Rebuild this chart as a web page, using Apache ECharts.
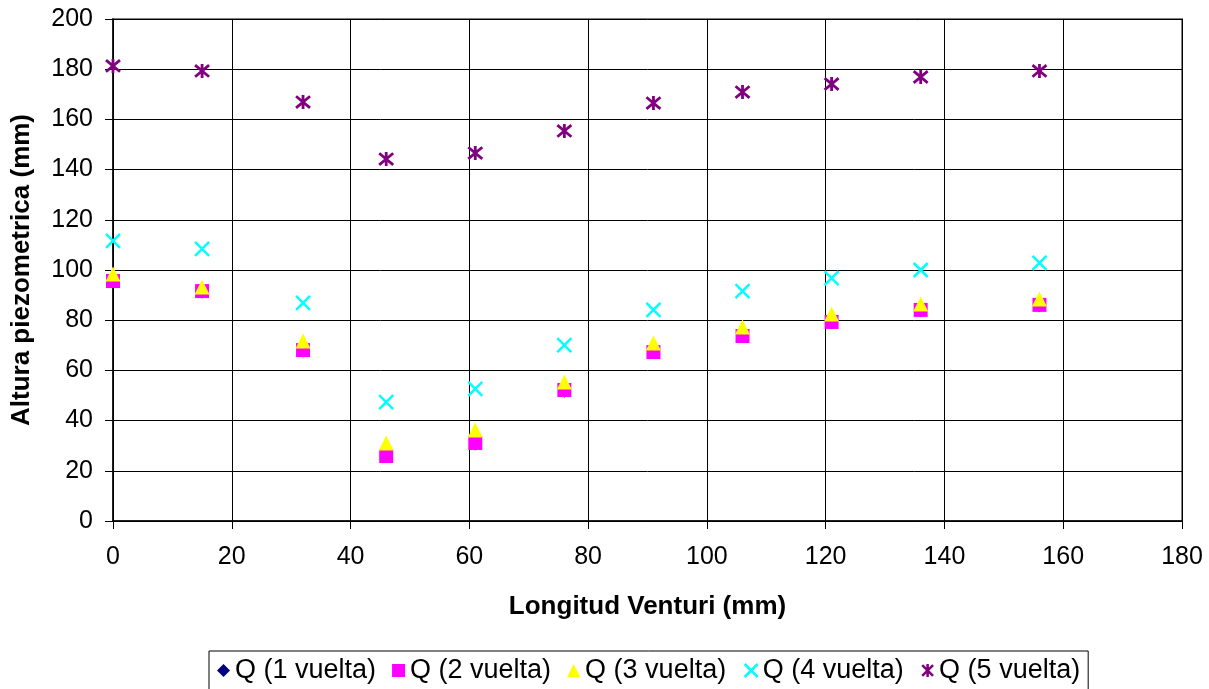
<!DOCTYPE html>
<html>
<head>
<meta charset="utf-8">
<script src="https://cdn.jsdelivr.net/npm/echarts@6/dist/echarts.min.js"></script>
<style>
html,body{margin:0;padding:0;background:#fff;}
#c{width:1209px;height:689px;}
</style>
</head>
<body>
<div id="c"></div>
<script>
var xPositions = [0, 15, 32, 46, 61, 76, 91, 106, 121, 136, 156];
var q1 = [95, 91, 67.5, 25.5, 30.5, 51.5, 66.8, 73.3, 78.8, 83.6, 85.6];
var q2 = [95.6, 91.6, 68.1, 25.9, 31.1, 52.2, 67.3, 73.7, 79.3, 84.1, 86.1];
var q3 = [98.4, 93.2, 71.7, 31.1, 36.3, 55.4, 70.9, 77.3, 82.5, 86.5, 88.4];
var q4 = [111.6, 108.4, 86.9, 47.4, 52.6, 70.1, 84.1, 91.6, 96.8, 100, 102.8];
var q5 = [181.3, 179.3, 166.9, 144.2, 146.6, 155.4, 166.5, 170.9, 174.1, 176.9, 179.3];
var seriesNames = ['Q (1 vuelta)', 'Q (2 vuelta)', 'Q (3 vuelta)', 'Q (4 vuelta)', 'Q (5 vuelta)'];
var yTicks = [0, 20, 40, 60, 80, 100, 120, 140, 160, 180, 200];
var xTicks = [0, 20, 40, 60, 80, 100, 120, 140, 160, 180];

function pairs(ys){ return xPositions.map(function(x,i){return [x, ys[i]];}); }

var X_PATH = 'path://M0,0L10,10M10,0L0,10';
var AST_PATH = 'path://M0,0L10,10M10,0L0,10M5,-1L5,11';
var font = '"Liberation Sans", Arial, sans-serif';

var chart = echarts.init(document.getElementById('c'));
chart.setOption({
  animation: false,
  backgroundColor: '#fff',
  textStyle: {fontFamily: font},
  grid: {left: 113, top: 19, width: 1069, height: 502, show: true, borderColor: '#808080', borderWidth: 2, backgroundColor: 'transparent'},
  xAxis: {
    type: 'value', min: 0, max: 180, interval: 20,
    name: 'Longitud Venturi (mm)', nameLocation: 'middle', nameGap: 73,
    nameTextStyle: {fontFamily: font, fontSize: 26, fontWeight: 'bold', color: '#000'},
    axisLine: {show: true, onZero: false, lineStyle: {color: '#000', width: 1.5}},
    axisTick: {show: true, length: 8, inside: false, lineStyle: {color: '#000'}},
    axisLabel: {fontFamily: font, fontSize: 25, color: '#000', margin: 24},
    splitLine: {show: true, lineStyle: {color: '#000', width: 1}}
  },
  yAxis: {
    type: 'value', min: 0, max: 200, interval: 20,
    name: 'Altura piezometrica (mm)', nameLocation: 'middle', nameGap: 78, nameRotate: 90,
    nameTextStyle: {fontFamily: font, fontSize: 26, fontWeight: 'bold', color: '#000'},
    axisLine: {show: true, onZero: false, lineStyle: {color: '#000', width: 1.5}},
    axisTick: {show: true, length: 8, inside: false, lineStyle: {color: '#000'}},
    axisLabel: {fontFamily: font, fontSize: 25, color: '#000', margin: 20},
    splitLine: {show: true, lineStyle: {color: '#000', width: 1}}
  },
  legend: {
    top: 651, left: 209,
    padding: [6, 8, 20, 8],
    borderColor: '#000', borderWidth: 1,
    itemWidth: 13, itemHeight: 13, itemGap: 16,
    textStyle: {fontFamily: font, fontSize: 27, color: '#000'},
    data: [
      {name: seriesNames[0], icon: 'diamond', itemStyle: {color: '#000080'}},
      {name: seriesNames[1], icon: 'rect', itemStyle: {color: '#FF00FF'}},
      {name: seriesNames[2], icon: 'triangle', itemStyle: {color: '#FFFF00'}},
      {name: seriesNames[3], icon: X_PATH, itemStyle: {color: 'none', borderColor: '#00FFFF', borderWidth: 2.5}},
      {name: seriesNames[4], icon: AST_PATH, itemStyle: {color: 'none', borderColor: '#800080', borderWidth: 2.5}}
    ]
  },
  series: [
    {name: seriesNames[0], type: 'scatter', data: pairs(q1), symbol: 'diamond', symbolSize: 12, itemStyle: {color: '#000080', opacity: 1}},
    {name: seriesNames[1], type: 'scatter', data: pairs(q2), symbol: 'rect', symbolSize: 14, itemStyle: {color: '#FF00FF', opacity: 1}},
    {name: seriesNames[2], type: 'scatter', data: pairs(q3), symbol: 'triangle', symbolSize: 15, itemStyle: {color: '#FFFF00', opacity: 1}},
    {name: seriesNames[3], type: 'scatter', data: pairs(q4), symbol: X_PATH, symbolSize: 14, itemStyle: {color: 'none', borderColor: '#00FFFF', borderWidth: 2.5, opacity: 1}},
    {name: seriesNames[4], type: 'scatter', data: pairs(q5), symbol: AST_PATH, symbolSize: 14, itemStyle: {color: 'none', borderColor: '#800080', borderWidth: 2.8, opacity: 1}}
  ]
});
</script>
</body>
</html>
